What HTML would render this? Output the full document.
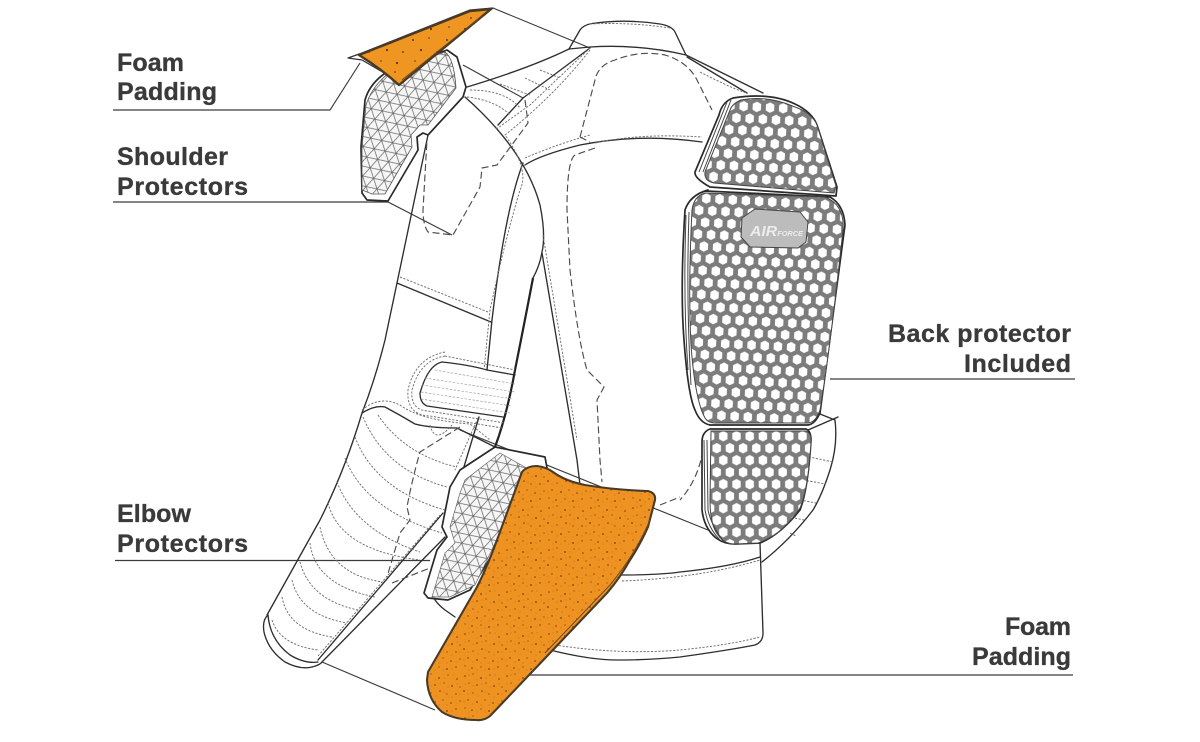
<!DOCTYPE html>
<html><head><meta charset="utf-8"><style>
html,body{margin:0;padding:0;background:#fff;width:1200px;height:742px;overflow:hidden}
svg{display:block}
text{font-family:"Liberation Sans",Arial,sans-serif;font-weight:700;font-size:25px;fill:#3a3a3a;stroke:#3a3a3a;stroke-width:.35px}
.m{fill:none;stroke:#2e2e2e;stroke-width:1.35;stroke-linejoin:round;stroke-linecap:round}
.t{fill:none;stroke:#222;stroke-width:2.2;stroke-linejoin:round}
.g{fill:none;stroke:#444;stroke-width:1}
.d{fill:none;stroke:#4c4c4c;stroke-width:1.15;stroke-dasharray:7 3.5}
.s{fill:none;stroke:#707070;stroke-width:.95;stroke-dasharray:2.2 1.5}
.o{fill:#fff;stroke:#2a2a2a;stroke-width:1.7;stroke-linejoin:round}
</style></head><body>
<svg width="1200" height="742" viewBox="0 0 1200 742" xmlns="http://www.w3.org/2000/svg">
<defs>
<pattern id="h1" width="13.2" height="24" patternUnits="userSpaceOnUse" patternTransform="translate(737.4 99.9) rotate(3)">
<rect width="13.2" height="24" fill="#7c7c7c"/>
<polygon points="6.6,.7 10.8,3 10.8,9 6.6,11.3 2.4,9 2.4,3" fill="#fff"/>
<polygon points="0,12.7 4.2,15 4.2,21 0,23.3 -4.2,21 -4.2,15" fill="#fff"/>
<polygon points="13.2,12.7 17.4,15 17.4,21 13.2,23.3 9,21 9,15" fill="#fff"/>
</pattern>
<pattern id="h2" width="13.2" height="24" patternUnits="userSpaceOnUse" patternTransform="translate(700.1 192.2) rotate(3)">
<rect width="13.2" height="24" fill="#7c7c7c"/>
<polygon points="6.6,.7 10.8,3 10.8,9 6.6,11.3 2.4,9 2.4,3" fill="#fff"/>
<polygon points="0,12.7 4.2,15 4.2,21 0,23.3 -4.2,21 -4.2,15" fill="#fff"/>
<polygon points="13.2,12.7 17.4,15 17.4,21 13.2,23.3 9,21 9,15" fill="#fff"/>
</pattern>
<pattern id="h3" width="13.2" height="24" patternUnits="userSpaceOnUse" patternTransform="translate(710.1 442.2)">
<rect width="13.2" height="24" fill="#7c7c7c"/>
<polygon points="6.6,.7 10.8,3 10.8,9 6.6,11.3 2.4,9 2.4,3" fill="#fff"/>
<polygon points="0,12.7 4.2,15 4.2,21 0,23.3 -4.2,21 -4.2,15" fill="#fff"/>
<polygon points="13.2,12.7 17.4,15 17.4,21 13.2,23.3 9,21 9,15" fill="#fff"/>
</pattern>
<pattern id="tri" width="13" height="22.5" patternUnits="userSpaceOnUse" patternTransform="rotate(12) scale(.86)">
<rect width="13" height="22.5" fill="#f6f6f6"/>
<path d="M0 0H13M0 11.25H13M0 22.5H13M0 0L13 22.5M13 0L0 22.5M6.5 -11.25L19.5 11.25M6.5 33.75L-6.5 11.25M6.5 -11.25L-6.5 11.25M6.5 33.75L19.5 11.25" stroke="#666" stroke-width=".85" fill="none"/>
</pattern>
<pattern id="foam" width="42" height="42" patternUnits="userSpaceOnUse">
<rect width="42" height="42" fill="#ee9322"/>
<g fill="#7a3d10">
<circle cx="3" cy="4" r=".8"/><circle cx="11" cy="2" r=".6"/><circle cx="19" cy="6" r=".9"/><circle cx="28" cy="3" r=".6"/><circle cx="37" cy="7" r=".8"/>
<circle cx="7" cy="11" r=".6"/><circle cx="15" cy="13" r=".8"/><circle cx="24" cy="11" r=".6"/><circle cx="32" cy="14" r=".9"/><circle cx="40" cy="15" r=".6"/>
<circle cx="2" cy="19" r=".9"/><circle cx="11" cy="21" r=".6"/><circle cx="20" cy="19" r=".8"/><circle cx="27" cy="22" r=".6"/><circle cx="36" cy="22" r=".7"/>
<circle cx="6" cy="28" r=".7"/><circle cx="15" cy="30" r=".9"/><circle cx="23" cy="28" r=".6"/><circle cx="31" cy="31" r=".8"/><circle cx="40" cy="29" r=".6"/>
<circle cx="3" cy="36" r=".6"/><circle cx="10" cy="38" r=".8"/><circle cx="19" cy="37" r=".6"/><circle cx="27" cy="39" r=".9"/><circle cx="36" cy="37" r=".7"/>
</g>
<g fill="#b5661a">
<circle cx="7" cy="3" r=".5"/><circle cx="15" cy="8" r=".5"/><circle cx="24" cy="6" r=".5"/><circle cx="33" cy="3" r=".5"/><circle cx="3" cy="12" r=".5"/><circle cx="11" cy="14" r=".5"/><circle cx="20" cy="12" r=".5"/><circle cx="28" cy="15" r=".5"/><circle cx="37" cy="12" r=".5"/><circle cx="6" cy="22" r=".5"/><circle cx="16" cy="24" r=".5"/><circle cx="24" cy="20" r=".5"/><circle cx="32" cy="25" r=".5"/><circle cx="40" cy="22" r=".5"/><circle cx="2" cy="30" r=".5"/><circle cx="11" cy="32" r=".5"/><circle cx="19" cy="33" r=".5"/><circle cx="27" cy="33" r=".5"/><circle cx="36" cy="32" r=".5"/><circle cx="7" cy="40" r=".5"/><circle cx="15" cy="40" r=".5"/><circle cx="23" cy="40" r=".5"/><circle cx="32" cy="39" r=".5"/>
</g>
</pattern>
<pattern id="foam2" width="34" height="34" patternUnits="userSpaceOnUse">
<rect width="34" height="34" fill="#ef9522"/>
<g fill="#5e3210"><circle cx="5" cy="6" r="1"/><circle cx="21" cy="4" r=".8"/><circle cx="13" cy="16" r="1.1"/><circle cx="29" cy="18" r=".9"/><circle cx="7" cy="27" r=".8"/><circle cx="23" cy="29" r="1.1"/></g>
</pattern>
</defs>
<rect width="1200" height="742" fill="#fff"/>

<!-- guide lines -->
<g fill="none" stroke="#3a3a3a" stroke-width="1.15">
<path d="M113 110H330L360 63"/>
<path d="M113 202H388L452 235"/>
<path d="M115 560.5H430"/>
<path d="M830 379H1075"/>
<path d="M530 675H1073"/>
<path d="M322 662L435 710"/>
<path d="M493 8L590 48"/>
<path d="M463 65L523 98"/>
<path d="M460 430L708 530"/>
</g>

<!-- jacket main lines -->
<path class="m" d="M569 49L580 30Q584 24 596 23Q627 19 660 24Q672 26 675 32L686 55"/>
<path class="m" d="M467 87Q530 68 569 49L590 47Q640 44 686 55L763 93"/>
<path class="m" d="M687 57L747 93"/>
<path class="m" d="M590 48L523 98L498 125"/>
<path class="m" d="M465 97Q525 150 540 205Q546 235 542 252Q540 265 533 278"/>
<path class="t" d="M533 278Q525 320 515 370Q507 415 495 447"/>
<path class="m" d="M523 163Q505 210 492 320L487 370"/>
<path class="m" d="M525 165Q540 155 580 145Q640 133 702 142"/>
<path class="m" d="M428 135L397 283L385 340Q375 380 362 413Q345 470 320 520Q295 565 267 615"/>
<path class="m" d="M268 615Q262 620 264 632Q268 650 285 662Q300 670 312 667Q320 665 322 662"/>
<path class="m" d="M268 615Q270 640 290 655Q305 664 318 662"/>
<path class="m" d="M397 283L491 322"/>
<path class="m" d="M542 253L577 460L580 485"/>
<path class="m" d="M442 362Q428 365 420 393Q420 403 427 406L503 417"/>
<path class="m" d="M442 362Q470 365 487 370L515 375"/>
<path class="m" d="M362 413Q375 405 385 407Q400 415 415 424Q430 428 457 428L495 447"/>
<path class="m" d="M318 660L443 513M322 662L445 537"/>
<path class="m" d="M479 417L463 470"/>
<path class="m" d="M432 591Q432 600 445 610L455 617"/>
<path class="m" d="M620 575Q660 575 680 572Q730 567 760 557"/>
<path class="m" d="M550 650Q590 660 617 660Q650 660 680 657Q730 650 755 645Q763 642 763 633L760 543"/>
<path class="m" d="M835 420Q838 445 830 470Q822 495 813 510Q790 540 762 562"/>
<path class="m" d="M815 412L835 420M808 430L838 417"/>

<!-- stitching -->
<g class="s">
<path d="M590 50Q555 95 505 135Q530 170 520 190Q505 240 490 310L484 370"/>
<path d="M590 48L530 105L495 130"/>
<path d="M470 90Q505 90 520 108M467 97Q495 100 510 115M540 70L560 78M525 78L550 90M500 84L530 95"/>
<path d="M595 143Q640 133 702 137"/>
<path d="M525 158Q555 145 590 135"/>
<path d="M400 277L488 312"/>
<path d="M700 72Q735 90 747 93"/>
<path d="M590 24Q630 22 670 28"/>
<path d="M543 235L577 440"/>
<path d="M445 356Q420 360 412 390Q410 410 428 411L505 423"/>
<path d="M445 352Q415 358 408 390Q406 415 430 416L502 428"/>
<path d="M445 356L515 370"/>
<path d="M362 410Q380 395 400 405Q420 420 470 424L490 440"/>
<path d="M478 418L455 470"/>
<path d="M378 415Q405 455 457 467"/>
<path d="M363 417Q385 470 447 487"/>
<path d="M355 437Q375 490 445 510"/>
<path d="M345 458Q365 510 442 533"/>
<path d="M337 482Q355 530 420 552"/>
<path d="M328 503Q340 550 420 560"/>
<path d="M320 527Q330 575 383 582"/>
<path d="M310 543Q315 585 375 597"/>
<path d="M300 562Q310 600 358 610"/>
<path d="M292 580Q300 615 347 623"/>
<path d="M282 597Q288 630 332 637"/>
<path d="M272 620Q280 645 318 650"/>
<path d="M318 656L440 515"/>
<path d="M622 581Q700 578 760 560"/>
<path d="M555 645Q620 655 680 650Q730 645 760 637"/>
<path d="M805 456L833 462M803 480L826 484M800 500L816 503M795 518L804 520M790 533L796 536"/>
<path d="M430 425Q435 445 452 425"/>
</g>
<g stroke="#a0a0a0" stroke-width=".7" stroke-dasharray="2.5 1.5" fill="none">
<path d="M425 378L515 392M422 385L513 399M421 392L512 406M421 399L510 413M435 370L515 384"/>
</g>

<!-- dashed interior -->
<path class="d" d="M580 137L595 80Q598 65 615 60Q640 50 665 55Q688 62 697 80L712 110"/>
<path class="d" d="M580 137L590 142"/>
<path class="d" d="M595 148L575 155Q567 160 567 210L570 270Q578 340 587 370L604 387L597 400L600 460L602 482"/>
<path class="d" d="M525 100L528 123L497 165L482 168L480 187L453 235L428 232Q423 225 423 210L427 140"/>
<path class="d" d="M460 427L420 452Q412 480 407 507L410 520L400 533L387 577"/>
<path class="d" d="M392 583L430 568"/>
<path class="d" d="M703 450Q698 480 680 500"/>
<path class="d" d="M660 505L680 497"/>

<!-- shoulder protector -->
<path class="o" d="M447 50L457 57L466 87L463 97L428 135L423 133L417 137L418 150L388 201L367 200L362 193L361 147L365 100Q370 82 390 70Z"/>
<path d="M445 52Q454 58 456 88L428 125L420 125L411 135L412 147L385 194L372 194L362 190L362 147L366 105Q372 86 390 72Z" fill="url(#tri)" stroke="#555" stroke-width=".8"/>

<!-- foam top -->
<path d="M348 58L362 53L470 10L493 8L399 85L386 74L362 60Z" fill="#fff" stroke="#333" stroke-width="1.3" stroke-linejoin="round"/>
<path d="M359 55L470 11L491 9L399 85Q380 68 359 55Z" fill="url(#foam2)" stroke="#4a3a25" stroke-width="2.4" stroke-linejoin="round"/>
<path d="M402 80L482 16" stroke="#6e4a1c" stroke-width="1" fill="none"/>

<!-- back protector -->
<path class="o" d="M733 98Q722 102 719 115L695 172Q694 178 710 187L836 196L837 187L817 125Q812 112 795 104Q770 92 733 98Z"/>
<path d="M741 100Q732 104 730 110L705 172Q704 181 714 183L834 193L836 186L817 125Q812 113 795 107Q768 95 741 100Z" fill="url(#h1)" stroke="#444" stroke-width="1"/>
<path d="M727 102L699 172M731 100L703 172" class="g" stroke-width=".7"/>
<path class="o" d="M708 190Q690 195 685 210Q680 290 684 340Q688 395 695 410Q700 423 710 425L808 425Q815 424 820 413L845 225Q844 205 830 197L705 191Z"/>
<path d="M705 193Q694 196 692 210Q688 290 691 345Q695 400 705 418Q708 423 715 423L808 423Q816 422 820 410Q830 350 843 230Q845 205 825 197Z" fill="url(#h2)" stroke="#444" stroke-width="1"/>
<path d="M686 215Q683 300 688 370M689 212Q686 300 691 385" class="g" stroke-width=".7"/>
<polygon points="755,209 800,212 808,222 806,242 798,248 750,247 741,237 742,218" fill="#bcbcbc" stroke="#444" stroke-width="1" stroke-linejoin="round"/>
<text x="750" y="236" textLength="53" lengthAdjust="spacingAndGlyphs" style="font-size:15px;font-style:italic;fill:#ececec;stroke:none">AIR<tspan style="font-size:7px">FORCE</tspan></text>
<path class="o" d="M710 429Q702 432 702 442L702 510Q704 528 716 538Q724 544 735 544L760 543Q780 535 800 510Q808 490 811 440Q811 431 806 429Z"/>
<path d="M711 431L806 431Q812 433 811 442Q808 490 800 508Q782 535 758 543L735 544Q724 544 718 535Q710 525 710 500Z" fill="url(#h3)" stroke="#444" stroke-width="1"/>
<path d="M704 440L705 510Q708 528 720 540M707 440L708 510Q711 525 724 542" class="g" stroke-width=".7"/>

<!-- elbow protector -->
<path class="o" d="M495 447L460 470L450 487L442 527L447 537L437 550L424 593L428 598L448 600L470 590L547 468L545 457Z"/>
<path d="M500 453L465 480L460 493L450 527L455 543L445 553L432 597L450 597L475 585L530 470Z" fill="url(#tri)" stroke="#666" stroke-width=".7"/>

<!-- foam bottom -->
<path d="M522 472Q527 466 537 466Q546 467 553 472Q565 481 585 485Q615 490 648 491Q656 493 655 500L648 527Q640 545 630 560Q620 578 607 593L550 653L490 716Q484 721 476 720Q455 720 442 712Q428 700 427 680L428 672Q455 625 477 587Q488 565 497 540Z" fill="url(#foam)" stroke="#4a3a28" stroke-width="2.1" stroke-linejoin="round"/>
<path d="M650 520Q635 555 610 585L545 653" fill="none" stroke="#6e4a1c" stroke-width="1"/>

<!-- labels -->
<text x="117" y="71" textLength="67">Foam</text>
<text x="117" y="100" textLength="100">Padding</text>
<text x="117" y="165" textLength="111">Shoulder</text>
<text x="117" y="195" textLength="131">Protectors</text>
<text x="117" y="522" textLength="74">Elbow</text>
<text x="117" y="552" textLength="131">Protectors</text>
<text x="888" y="342" textLength="183">Back protector</text>
<text x="964" y="372" textLength="107">Included</text>
<text x="1005" y="635" textLength="66">Foam</text>
<text x="972" y="665" textLength="99">Padding</text>
</svg>
</body></html>
